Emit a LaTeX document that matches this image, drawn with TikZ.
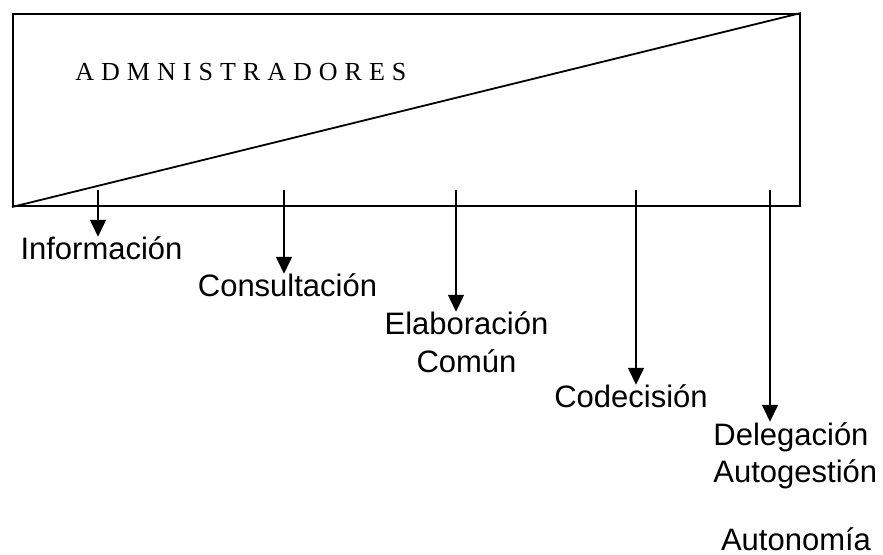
\documentclass[tikz,border=0pt]{standalone}
\usepackage{fontspec}
\setmainfont{Liberation Sans}
\newfontfamily\titelschrift[LetterSpace=27]{Liberation Serif}
\usetikzlibrary{arrows.meta}

\begin{document}
\begin{tikzpicture}[x=0.5pt, y=-0.5pt, >={Triangle[width=8pt,length=8.5pt]},
		etikett/.style={font=\fontsize{15.5}{18.5}\selectfont, inner sep=0pt, align=center},
		pfeil/.style={->, line width=0.75pt}]
		\useasboundingbox (0,0) rectangle (883,555);
		
		% Kasten der Administratoren
		\node[draw, line width=1pt, minimum width=393.5pt, minimum height=96pt, inner sep=0pt] (admin) at (406.5,110) {};
		\draw[line width=0.9pt] (admin.south west) -- (admin.north east);
		\node[font=\titelschrift\fontsize{13}{15}\selectfont, anchor=base west, inner sep=0pt] (titel) at (75,81) {ADMNISTRADORES};
		
		% Stufen der Beteiligung
		\node[etikett, anchor=base] (info) at (101.5,260) {Información};
		\node[etikett, anchor=base] (konsult) at (287.5,297) {Consultación};
		\node[etikett, anchor=base] (elab) at (466.5,372) {Elaboración\\Común};
		\node[etikett, anchor=base] (kodez) at (631,408) {Codecisión};
		\node[etikett, anchor=base west, align=left] (deleg) at (713,482) {Delegación\\Autogestión};
		\node[etikett, anchor=base] (auton) at (796,550) {Autonomía};
		
		% Startpunkte im Kasten
		\coordinate (s1) at (98,190);
		\coordinate (s2) at (284,190);
		\coordinate (s3) at (456,190);
		\coordinate (s4) at (636,190);
		\coordinate (s5) at (770,190);
		
		% Pfeile
		\draw[pfeil] (s1) -- (s1 |- info.north);
		\draw[pfeil] (s2) -- (s2 |- konsult.north);
		\draw[pfeil] (s3) -- (s3 |- elab.north);
		\draw[pfeil] (s4) -- (s4 |- kodez.north);
		\draw[pfeil] (s5) -- (s5 |- deleg.north);
	\end{tikzpicture}
\end{document}
